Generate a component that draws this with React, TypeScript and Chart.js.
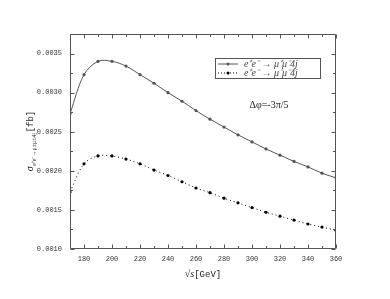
import React, { useEffect, useRef } from "react";
import { Chart, registerables } from "chart.js";

Chart.register(...registerables);

const energies = [170, 180, 190, 200, 210, 220, 230, 240, 250, 260, 270, 280, 290, 300, 310, 320, 330, 340, 350, 360];
const sigmaPlusMinus = [0.00273, 0.00323, 0.0034, 0.0034, 0.00334, 0.00323, 0.00312, 0.003, 0.00289, 0.00277, 0.00266, 0.00256, 0.00246, 0.00237, 0.00228, 0.0022, 0.00212, 0.00205, 0.00197, 0.00191];
const sigmaMinusMinus = [0.00173, 0.00209, 0.00219, 0.00219, 0.00215, 0.00209, 0.00201, 0.00194, 0.00186, 0.00178, 0.00172, 0.00165, 0.00159, 0.00153, 0.00147, 0.00142, 0.00137, 0.00132, 0.00128, 0.00124];
const yTickValues = [0.001, 0.0015, 0.002, 0.0025, 0.003, 0.0035];
const xTickValues = [180, 200, 220, 240, 260, 280, 300, 320, 340, 360];
const legendLabels = ["e⁺e⁻ → μ⁺μ⁻4j", "e⁺e⁻ → μ⁻μ⁻4j"];
const annotationText = "Δφ=-3π/5";
const yTitleMain = "σ";
const yTitleSub = "e⁺e⁻→μ±μ±4j";
const yTitleUnit = "[fb]";
const xTitleMain = "√s";
const xTitleUnit = "[GeV]";

const GRAY = "#555555";

const decorPlugin = {
  id: "decor",
  afterDatasetsDraw(chart: any) {
    const { ctx, chartArea: a, scales } = chart;
    const xs = scales.x;
    const ys = scales.y;
    ctx.save();
    ctx.strokeStyle = GRAY;
    ctx.lineWidth = 1;
    const L = Math.round(a.left) + 0.5;
    const R = Math.round(a.right) - 0.5;
    const T = Math.round(a.top) + 0.5;
    const B = Math.round(a.bottom) - 0.5;
    ctx.beginPath();
    ctx.rect(L, T, R - L, B - T);
    ctx.stroke();
    const line = (x1: number, y1: number, x2: number, y2: number) => {
      ctx.beginPath();
      ctx.moveTo(x1, y1);
      ctx.lineTo(x2, y2);
      ctx.stroke();
    };
    for (let v = xs.min; v <= xs.max + 0.001; v += 10) {
      const px = Math.round(xs.getPixelForValue(v)) + 0.5;
      const len = v % 20 === 0 ? 4 : 2.5;
      line(px, B, px, B - len);
      line(px, T, px, T + len);
    }
    for (let i = 0; ; i++) {
      const v = 0.001 + i * 0.00025;
      if (v > ys.max + 1e-9) break;
      const py = Math.round(ys.getPixelForValue(v)) + 0.5;
      const len = i % 2 === 0 ? 4 : 2.5;
      line(L, py, L + len, py);
      line(R, py, R - len, py);
    }

    // legend
    const bx = 215.5, by = 58.5, bw = 105, bh = 20;
    ctx.fillStyle = "#fff";
    ctx.fillRect(bx, by, bw, bh);
    ctx.strokeStyle = GRAY;
    ctx.strokeRect(bx, by, bw, bh);
    const rows = [by + 5.5, by + 14.5];
    ctx.strokeStyle = GRAY;
    ctx.setLineDash([]);
    line(218, rows[0], 238, rows[0]);
    ctx.fillStyle = GRAY;
    ctx.beginPath();
    ctx.arc(228, rows[0], 1.5, 0, Math.PI * 2);
    ctx.fill();
    ctx.strokeStyle = "#000";
    ctx.setLineDash([1, 2]);
    line(218, rows[1], 238, rows[1]);
    ctx.setLineDash([]);
    ctx.fillStyle = "#000";
    ctx.beginPath();
    ctx.arc(228, rows[1], 1.5, 0, Math.PI * 2);
    ctx.fill();
    ctx.fillStyle = "#444";
    ctx.font = "italic 10px 'Liberation Serif'";
    ctx.textBaseline = "middle";
    ctx.textAlign = "left";
    legendLabels.forEach((t, i) => ctx.fillText(t, 244, rows[i] + 0.5));

    // annotation
    ctx.fillStyle = "#222";
    ctx.font = "10px 'Liberation Serif'";
    ctx.textAlign = "center";
    ctx.fillText(annotationText, 269, 105);

    // x title
    ctx.textBaseline = "alphabetic";
    ctx.textAlign = "left";
    ctx.font = "italic 10px 'Liberation Serif'";
    const w1 = ctx.measureText(xTitleMain).width;
    ctx.font = "9px 'Liberation Mono'";
    const w2 = ctx.measureText(xTitleUnit).width;
    const cx = (a.left + a.right) / 2;
    const sx = cx - (w1 + w2) / 2;
    ctx.font = "italic 10px 'Liberation Serif'";
    ctx.fillText(xTitleMain, sx, 277);
    ctx.font = "9px 'Liberation Mono'";
    ctx.fillText(xTitleUnit, sx + w1, 277);

    // y title
    ctx.save();
    ctx.translate(33, (a.top + a.bottom) / 2);
    ctx.rotate(-Math.PI / 2);
    ctx.font = "italic 10px 'Liberation Serif'";
    const m1 = ctx.measureText(yTitleMain).width;
    ctx.font = "6px 'Liberation Serif'";
    const m2 = ctx.measureText(yTitleSub).width;
    ctx.font = "9px 'Liberation Mono'";
    const m3 = ctx.measureText(yTitleUnit).width;
    const s = -(m1 + m2 + m3) / 2;
    ctx.font = "italic 10px 'Liberation Serif'";
    ctx.fillText(yTitleMain, s, 0);
    ctx.font = "6px 'Liberation Serif'";
    ctx.fillText(yTitleSub, s + m1 + 0.5, 2.5);
    ctx.font = "9px 'Liberation Mono'";
    ctx.fillText(yTitleUnit, s + m1 + m2 + 1, 0);
    ctx.restore();

    ctx.restore();
  },
};

export default function App() {
  const ref = useRef<HTMLCanvasElement>(null);
  useEffect(() => {
    if (!ref.current) return;
    const chart = new Chart(ref.current, {
      type: "line",
      data: {
        datasets: [
          {
            label: legendLabels[0],
            data: energies.map((e, i) => ({ x: e, y: sigmaPlusMinus[i] })),
            borderColor: GRAY,
            backgroundColor: GRAY,
            borderWidth: 1,
            pointRadius: 1.6,
            pointBorderWidth: 0,
            tension: 0.35,
          },
          {
            label: legendLabels[1],
            data: energies.map((e, i) => ({ x: e, y: sigmaMinusMinus[i] })),
            borderColor: "#000",
            backgroundColor: "#000",
            borderWidth: 1,
            borderDash: [1, 3],
            pointRadius: 1.6,
            pointBorderWidth: 0,
            tension: 0.35,
          },
        ],
      },
      options: {
        animation: false,
        responsive: true,
        maintainAspectRatio: false,
        layout: { padding: { top: 34, right: 54, left: 0, bottom: 0 } },
        plugins: { legend: { display: false }, tooltip: { enabled: false } },
        scales: {
          x: {
            type: "linear",
            min: 170,
            max: 360,
            grid: { display: false, drawTicks: false },
            border: { display: false },
            afterBuildTicks: (s: any) => {
              s.ticks = xTickValues.map((v) => ({ value: v }));
            },
            afterFit: (s: any) => {
              s.height = 50;
            },
            ticks: {
              padding: 6,
              color: "#333",
              maxRotation: 0,
              autoSkip: false,
              font: { family: "'Liberation Mono'", size: 7 },
              callback: (v: any) => String(v),
            },
          },
          y: {
            type: "linear",
            min: 0.001,
            max: 0.00375,
            grid: { display: false, drawTicks: false },
            border: { display: false },
            afterBuildTicks: (s: any) => {
              s.ticks = yTickValues.map((v) => ({ value: v }));
            },
            afterFit: (s: any) => {
              s.width = 70;
            },
            ticks: {
              padding: 8,
              color: "#333",
              autoSkip: false,
              font: { family: "'Liberation Mono'", size: 7 },
              callback: (v: any) => Number(v).toFixed(4),
            },
          },
        },
      },
      plugins: [decorPlugin],
    });
    return () => chart.destroy();
  }, []);
  return (
    <div style={{ position: "fixed", left: 0, top: 0, width: 390, height: 299, background: "#fff" }}>
      <canvas ref={ref} />
    </div>
  );
}
